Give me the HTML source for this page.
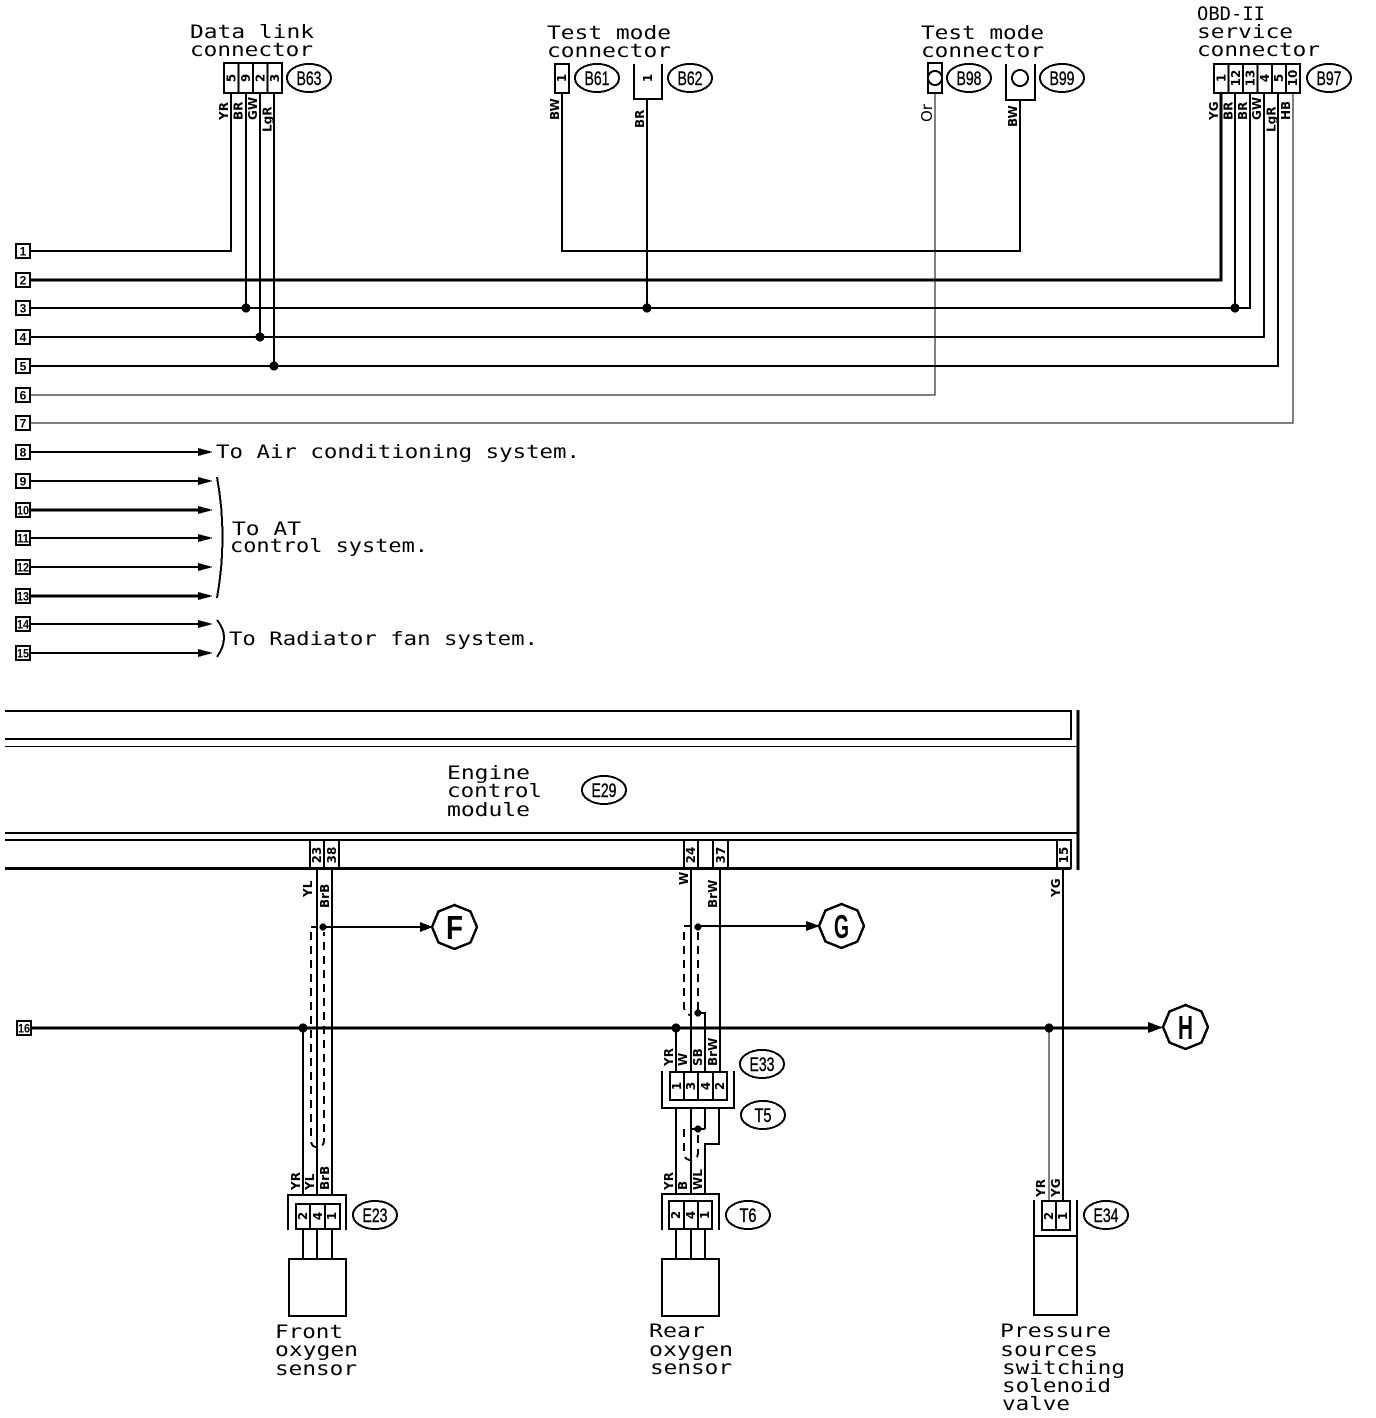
<!DOCTYPE html>
<html><head><meta charset="utf-8"><style>
html,body{margin:0;padding:0;background:#fff;width:1376px;height:1418px;overflow:hidden}
svg{display:block;shape-rendering:crispEdges}
.l{fill:none;stroke:#000;stroke-width:2}
.t{fill:none;stroke:#000;stroke-width:3}
.h{fill:none;stroke:#000;stroke-width:1}
.d{fill:none;stroke:#000;stroke-width:2;stroke-dasharray:8 6}
.b{fill:#fff;stroke:#000;stroke-width:2}
text{fill:#000;font-family:"DejaVu Sans Mono","Liberation Mono",monospace}
.x{font-size:19px}
.n{font-family:"Liberation Sans",sans-serif;font-size:12px;font-weight:bold;text-anchor:middle}
.v{font-family:"DejaVu Sans",sans-serif;font-size:12px;font-weight:bold}
.o{font-family:"Liberation Sans",sans-serif;font-size:19px;text-anchor:middle;stroke:#000;stroke-width:.4}
.c{font-family:"Liberation Sans",sans-serif;font-size:33px;font-weight:bold;text-anchor:middle}
</style></head><body>
<svg width="1376" height="1418" viewBox="0 0 1376 1418" xmlns="http://www.w3.org/2000/svg">

<!-- Headings -->
<text class="x" x="190" y="38" textLength="124" lengthAdjust="spacingAndGlyphs">Data link</text>
<text class="x" x="190" y="56" textLength="123" lengthAdjust="spacingAndGlyphs">connector</text>
<text class="x" x="547" y="39" textLength="124" lengthAdjust="spacingAndGlyphs">Test mode</text>
<text class="x" x="547" y="57" textLength="124" lengthAdjust="spacingAndGlyphs">connector</text>
<text class="x" x="921" y="39" textLength="123" lengthAdjust="spacingAndGlyphs">Test mode</text>
<text class="x" x="921" y="57" textLength="123" lengthAdjust="spacingAndGlyphs">connector</text>
<text class="x" x="1197" y="20" textLength="68" lengthAdjust="spacingAndGlyphs">OBD-II</text>
<text class="x" x="1197" y="38" textLength="96" lengthAdjust="spacingAndGlyphs">service</text>
<text class="x" x="1197" y="56" textLength="123" lengthAdjust="spacingAndGlyphs">connector</text>

<!-- Wires upper -->
<path class="l" d="M30 251H231V93"/>
<path class="t" d="M30 280H1221V93"/>
<path class="l" d="M30 308H1250V93M1235 93V308M246 93V308M647 99V308"/>
<path class="l" d="M30 337H1264V93M260 93V337"/>
<path class="l" d="M30 366H1278V93M274 93V366"/>
<path class="h" d="M30 395H935V93"/>
<path class="h" d="M30 423H1293V93"/>
<path class="l" d="M562 93V251H1020V100"/>
<circle cx="246" cy="308" r="4.5"/><circle cx="647" cy="308" r="4.5"/><circle cx="1235" cy="308" r="4.5"/>
<circle cx="260" cy="337" r="4.5"/><circle cx="274" cy="366" r="4.5"/>

<!-- Arrow wires -->
<path class="l" d="M30 452H200M30 481H200M30 538H200M30 567H200M30 624H200M30 653H200"/>
<path class="l" style="stroke-width:3" d="M30 510H200M30 596H200"/>
<path d="M198 448L213 452L198 456ZM198 477L213 481L198 485ZM198 506L213 510L198 514ZM198 534L213 538L198 542ZM198 563L213 567L198 571ZM198 592L213 596L198 600ZM198 620L213 624L198 628ZM198 649L213 653L198 657Z"/>

<!-- Left terminals -->
<g>
<rect class="b" x="16" y="244" width="14" height="14"/><text class="n" x="23" y="255.500">1</text>
<rect class="b" x="16" y="273" width="14" height="14"/><text class="n" x="23" y="284.500">2</text>
<rect class="b" x="16" y="301" width="14" height="14"/><text class="n" x="23" y="312.500">3</text>
<rect class="b" x="16" y="330" width="14" height="14"/><text class="n" x="23" y="341.500">4</text>
<rect class="b" x="16" y="359" width="14" height="14"/><text class="n" x="23" y="370.500">5</text>
<rect class="b" x="16" y="388" width="14" height="14"/><text class="n" x="23" y="399.500">6</text>
<rect class="b" x="16" y="416" width="14" height="14"/><text class="n" x="23" y="427.500">7</text>
<rect class="b" x="16" y="445" width="14" height="14"/><text class="n" x="23" y="456.500">8</text>
<rect class="b" x="16" y="474" width="14" height="14"/><text class="n" x="23" y="485.500">9</text>
<rect class="b" x="16" y="503" width="14" height="14"/><text class="n" x="23" y="514.500" textLength="12" lengthAdjust="spacingAndGlyphs">10</text>
<rect class="b" x="16" y="531" width="14" height="14"/><text class="n" x="23" y="542.500" textLength="12" lengthAdjust="spacingAndGlyphs">11</text>
<rect class="b" x="16" y="560" width="14" height="14"/><text class="n" x="23" y="571.500" textLength="12" lengthAdjust="spacingAndGlyphs">12</text>
<rect class="b" x="16" y="589" width="14" height="14"/><text class="n" x="23" y="600.500" textLength="12" lengthAdjust="spacingAndGlyphs">13</text>
<rect class="b" x="16" y="617" width="14" height="14"/><text class="n" x="23" y="628.500" textLength="12" lengthAdjust="spacingAndGlyphs">14</text>
<rect class="b" x="16" y="646" width="14" height="14"/><text class="n" x="23" y="657.500" textLength="12" lengthAdjust="spacingAndGlyphs">15</text>
<rect class="b" x="17" y="1021" width="14" height="14"/><text class="n" x="24" y="1032.500" textLength="12" lengthAdjust="spacingAndGlyphs">16</text>
</g>

<!-- Right-side captions -->
<text class="x" x="216" y="458" textLength="364" lengthAdjust="spacingAndGlyphs">To Air conditioning system.</text>
<text class="x" x="232" y="535" textLength="69" lengthAdjust="spacingAndGlyphs">To AT</text>
<text class="x" x="230" y="552" textLength="198" lengthAdjust="spacingAndGlyphs">control system.</text>
<text class="x" x="229" y="645" textLength="309" lengthAdjust="spacingAndGlyphs">To Radiator fan system.</text>
<path class="l" d="M217 477Q228 537 217 598"/>
<path class="l" d="M217 620Q231 637 217 657"/>

<!-- B63 -->
<rect class="b" x="224" y="63" width="58" height="30"/>
<path class="l" d="M238.500 63V93M253 63V93M267.500 63V93"/>
<g class="v">
<text class="v" transform="translate(235.500,78) rotate(-90)" text-anchor="middle">5</text>
<text class="v" transform="translate(250,78) rotate(-90)" text-anchor="middle">9</text>
<text class="v" transform="translate(264.500,78) rotate(-90)" text-anchor="middle">2</text>
<text class="v" transform="translate(279,78) rotate(-90)" text-anchor="middle">3</text>
</g>
<text class="v" transform="translate(228,120) rotate(-90)">YR</text>
<text class="v" transform="translate(242.500,120) rotate(-90)">BR</text>
<text class="v" transform="translate(257,120) rotate(-90)">GW</text>
<text class="v" transform="translate(271.500,132) rotate(-90)">LgR</text>
<ellipse class="l" cx="309" cy="78" rx="22" ry="14"/><text class="o" x="309" y="85" textLength="25" lengthAdjust="spacingAndGlyphs">B63</text>

<!-- B61 / B62 -->
<rect class="b" x="555" y="64" width="14" height="29"/>
<text class="v" transform="translate(566,78) rotate(-90)" text-anchor="middle">1</text>
<text class="v" transform="translate(559,120) rotate(-90)">BW</text>
<ellipse class="l" cx="597" cy="78" rx="22" ry="14"/><text class="o" x="597" y="85" textLength="25" lengthAdjust="spacingAndGlyphs">B61</text>
<path class="l" d="M634 64V99H662V64"/>
<text class="v" transform="translate(652,78) rotate(-90)" text-anchor="middle">1</text>
<text class="v" transform="translate(644,128) rotate(-90)">BR</text>
<ellipse class="l" cx="690" cy="78" rx="22" ry="14"/><text class="o" x="690" y="85" textLength="25" lengthAdjust="spacingAndGlyphs">B62</text>

<!-- B98 / B99 -->
<rect class="b" x="928" y="63" width="14" height="30"/>
<circle class="l" cx="935" cy="78" r="7"/>
<text class="v" transform="translate(932,122) rotate(-90)" style="font-weight:normal;font-size:15px">Or</text>
<ellipse class="l" cx="969" cy="78" rx="22" ry="14"/><text class="o" x="969" y="85" textLength="25" lengthAdjust="spacingAndGlyphs">B98</text>
<path class="l" d="M1006 64V100H1035V64"/>
<circle class="l" cx="1020" cy="78" r="8"/>
<text class="v" transform="translate(1017,127) rotate(-90)">BW</text>
<ellipse class="l" cx="1062" cy="78" rx="22" ry="14"/><text class="o" x="1062" y="85" textLength="25" lengthAdjust="spacingAndGlyphs">B99</text>

<!-- B97 -->
<rect class="b" x="1214" y="64" width="86" height="29"/>
<path class="l" d="M1228.500 64V93M1243 64V93M1257.500 64V93M1272 64V93M1286 64V93"/>
<text class="v" transform="translate(1225.500,78) rotate(-90)" text-anchor="middle">1</text>
<text class="v" transform="translate(1240,78) rotate(-90)" text-anchor="middle">12</text>
<text class="v" transform="translate(1254.500,78) rotate(-90)" text-anchor="middle">13</text>
<text class="v" transform="translate(1269,78) rotate(-90)" text-anchor="middle">4</text>
<text class="v" transform="translate(1283,78) rotate(-90)" text-anchor="middle">5</text>
<text class="v" transform="translate(1297,78) rotate(-90)" text-anchor="middle">10</text>
<text class="v" transform="translate(1218,120) rotate(-90)">YG</text>
<text class="v" transform="translate(1232.500,120) rotate(-90)">BR</text>
<text class="v" transform="translate(1247,120) rotate(-90)">BR</text>
<text class="v" transform="translate(1261,120) rotate(-90)">GW</text>
<text class="v" transform="translate(1275.500,132) rotate(-90)">LgR</text>
<text class="v" transform="translate(1290,120) rotate(-90)">HB</text>
<ellipse class="l" cx="1329" cy="78" rx="22" ry="14"/><text class="o" x="1329" y="85" textLength="25" lengthAdjust="spacingAndGlyphs">B97</text>

<!-- ECM -->
<path class="l" d="M5 711H1071V739H5"/>
<path class="h" d="M5 746.500H1078"/>
<path class="t" d="M1078 710V870"/>
<path class="l" d="M5 833H1078M5 840H1071V868H5"/>
<path class="l" d="M5 869H1071"/>
<text class="x" x="447" y="779" textLength="83" lengthAdjust="spacingAndGlyphs">Engine</text>
<text class="x" x="447" y="797" textLength="95" lengthAdjust="spacingAndGlyphs">control</text>
<text class="x" x="447" y="816" textLength="83" lengthAdjust="spacingAndGlyphs">module</text>
<ellipse class="l" cx="604" cy="790" rx="22" ry="14"/><text class="o" x="604" y="797" textLength="25" lengthAdjust="spacingAndGlyphs">E29</text>

<!-- ECM pins -->
<path class="l" d="M310 840V869M324 840V869M339 840V869M684 840V869M698 840V869M713 840V869M728 840V869M1057 840V869"/>
<text class="v" transform="translate(321,855) rotate(-90)" text-anchor="middle">23</text>
<text class="v" transform="translate(336,855) rotate(-90)" text-anchor="middle">38</text>
<text class="v" transform="translate(695,855) rotate(-90)" text-anchor="middle">24</text>
<text class="v" transform="translate(725,855) rotate(-90)" text-anchor="middle">37</text>
<text class="v" transform="translate(1068,855) rotate(-90)" text-anchor="middle">15</text>

<!-- Horizontal bus -->
<path class="t" d="M31 1028H1150"/>
<path d="M1148 1022L1163 1027.500L1148 1033Z"/>
<circle cx="303" cy="1028" r="4.500"/><circle cx="676" cy="1028" r="4.500"/><circle cx="1049" cy="1028" r="4.500"/>

<!-- Front sensor wiring -->
<path class="l" d="M317 869V1195M332 869V1195"/>
<path class="l" d="M303 1028V1195"/>
<path class="d" d="M311 932V1140Q311 1147 317 1147Q324 1147 324 1140V932"/>
<path class="l" d="M311 927H316M322 927H425"/>
<path d="M420 922L433 927L420 932Z"/><circle cx="323" cy="927" r="3.500"/>
<text class="v" transform="translate(312,897) rotate(-90)">YL</text>
<text class="v" transform="translate(329,908) rotate(-90)">BrB</text>
<text class="v" transform="translate(300,1190) rotate(-90)">YR</text>
<text class="v" transform="translate(314,1190) rotate(-90)">YL</text>
<text class="v" transform="translate(329,1190) rotate(-90)">BrB</text>
<path class="l" d="M288 1230V1195H346V1230"/>
<rect class="b" x="296" y="1204" width="44" height="25"/>
<path class="l" d="M310 1204V1229M325 1204V1229"/>
<text class="v" transform="translate(307,1216) rotate(-90)" text-anchor="middle">2</text>
<text class="v" transform="translate(322,1216) rotate(-90)" text-anchor="middle">4</text>
<text class="v" transform="translate(336,1216) rotate(-90)" text-anchor="middle">1</text>
<path class="l" d="M303 1230V1259M317 1230V1259M332 1230V1259"/>
<rect class="b" x="289" y="1259" width="57" height="57"/>
<ellipse class="l" cx="375" cy="1215" rx="22" ry="14"/><text class="o" x="375" y="1222" textLength="25" lengthAdjust="spacingAndGlyphs">E23</text>
<text class="x" x="275" y="1338" textLength="68" lengthAdjust="spacingAndGlyphs">Front</text>
<text class="x" x="275" y="1356" textLength="83" lengthAdjust="spacingAndGlyphs">oxygen</text>
<text class="x" x="275" y="1375" textLength="82" lengthAdjust="spacingAndGlyphs">sensor</text>

<!-- Rear sensor wiring -->
<path class="l" d="M691 869V1072M720 869V1072"/>
<path class="l" d="M676 1028V1072M698 1013H705V1072"/>
<path class="d" d="M684 932V1006Q684 1015 691 1015M698 932V1010"/>
<path class="l" d="M684 926H690M698 926H810"/>
<path d="M806 921L820 926L806 931Z"/><circle cx="698" cy="927" r="3.500"/><circle cx="698" cy="1013" r="3.500"/>
<text class="v" transform="translate(688,885) rotate(-90)">W</text>
<text class="v" transform="translate(717,908) rotate(-90)">BrW</text>
<text class="v" transform="translate(673,1066) rotate(-90)">YR</text>
<text class="v" transform="translate(687,1066) rotate(-90)">W</text>
<text class="v" transform="translate(702,1066) rotate(-90)">SB</text>
<text class="v" transform="translate(717,1066) rotate(-90)">BrW</text>
<path class="l" d="M662 1071V1108H734V1071"/>
<rect class="b" x="670" y="1072" width="57" height="28"/>
<path class="l" d="M684 1072V1100M698 1072V1100M713 1072V1100"/>
<text class="v" transform="translate(681,1086) rotate(-90)" text-anchor="middle">1</text>
<text class="v" transform="translate(695,1086) rotate(-90)" text-anchor="middle">3</text>
<text class="v" transform="translate(710,1086) rotate(-90)" text-anchor="middle">4</text>
<text class="v" transform="translate(724,1086) rotate(-90)" text-anchor="middle">2</text>
<path class="l" d="M676 1108V1194M691 1108V1194M705 1108V1129M719 1108V1144H705V1194M691 1129H705"/>
<path class="d" d="M684 1129V1152Q684 1160 691 1160Q698 1160 698 1152V1132"/>
<circle cx="698" cy="1129" r="3.500"/>
<text class="v" transform="translate(673,1190) rotate(-90)">YR</text>
<text class="v" transform="translate(687,1190) rotate(-90)">B</text>
<text class="v" transform="translate(702,1190) rotate(-90)">WL</text>
<path class="l" d="M662 1230V1194H719V1230"/>
<rect class="b" x="669" y="1201" width="43" height="28"/>
<path class="l" d="M684 1201V1229M698 1201V1229"/>
<text class="v" transform="translate(680,1215) rotate(-90)" text-anchor="middle">2</text>
<text class="v" transform="translate(695,1215) rotate(-90)" text-anchor="middle">4</text>
<text class="v" transform="translate(709,1215) rotate(-90)" text-anchor="middle">1</text>
<path class="l" d="M676 1230V1259M691 1230V1259M705 1230V1259"/>
<rect class="b" x="662" y="1259" width="57" height="57"/>
<ellipse class="l" cx="762" cy="1064" rx="22" ry="14"/><text class="o" x="762" y="1071" textLength="25" lengthAdjust="spacingAndGlyphs">E33</text>
<ellipse class="l" cx="763" cy="1115" rx="22" ry="14"/><text class="o" x="763" y="1122" textLength="17" lengthAdjust="spacingAndGlyphs">T5</text>
<ellipse class="l" cx="748" cy="1215" rx="22" ry="14"/><text class="o" x="748" y="1222" textLength="17" lengthAdjust="spacingAndGlyphs">T6</text>
<text class="x" x="649" y="1337" textLength="56" lengthAdjust="spacingAndGlyphs">Rear</text>
<text class="x" x="649" y="1356" textLength="84" lengthAdjust="spacingAndGlyphs">oxygen</text>
<text class="x" x="650" y="1374" textLength="82" lengthAdjust="spacingAndGlyphs">sensor</text>

<!-- Pressure valve -->
<path class="h" d="M1049 1028V1200"/>
<path class="l" d="M1063 869V1201"/>
<text class="v" transform="translate(1060,897) rotate(-90)">YG</text>
<text class="v" transform="translate(1045,1197) rotate(-90)">YR</text>
<text class="v" transform="translate(1060,1197) rotate(-90)">YG</text>
<rect class="b" x="1042" y="1201" width="28" height="29"/>
<path class="l" d="M1056 1201V1230"/>
<text class="v" transform="translate(1053,1216) rotate(-90)" text-anchor="middle">2</text>
<text class="v" transform="translate(1067,1216) rotate(-90)" text-anchor="middle">1</text>
<path class="l" d="M1034 1200V1315H1077V1200M1034 1236H1077"/>
<ellipse class="l" cx="1106" cy="1215" rx="22" ry="14"/><text class="o" x="1106" y="1222" textLength="25" lengthAdjust="spacingAndGlyphs">E34</text>
<text class="x" x="1000" y="1337" textLength="111" lengthAdjust="spacingAndGlyphs">Pressure</text>
<text class="x" x="1000" y="1356" textLength="98" lengthAdjust="spacingAndGlyphs">sources</text>
<text class="x" x="1002" y="1374" textLength="123" lengthAdjust="spacingAndGlyphs">switching</text>
<text class="x" x="1002" y="1392" textLength="109" lengthAdjust="spacingAndGlyphs">solenoid</text>
<text class="x" x="1002" y="1410" textLength="68" lengthAdjust="spacingAndGlyphs">valve</text>

<!-- Octagons -->
<polygon class="l" style="stroke-width:2.500" points="477,927 470.500,942.500 454.500,949 438.500,942.500 432,927 438.500,911.500 454.500,905 470.500,911.500"/>
<text class="c" x="454.500" y="939" textLength="17" lengthAdjust="spacingAndGlyphs">F</text>
<polygon class="l" style="stroke-width:2.500" points="864,926 857.500,941.500 841.500,948 825.500,941.500 819,926 825.500,910.500 841.500,904 857.500,910.500"/>
<text class="c" x="841.500" y="938" textLength="15" lengthAdjust="spacingAndGlyphs">G</text>
<polygon class="l" style="stroke-width:2.500" points="1208,1027 1201.500,1042.500 1185.500,1049 1169.500,1042.500 1163,1027 1169.500,1011.500 1185.500,1005 1201.500,1011.500"/>
<text class="c" x="1185.500" y="1039" textLength="15" lengthAdjust="spacingAndGlyphs">H</text>
</svg>
</body></html>
